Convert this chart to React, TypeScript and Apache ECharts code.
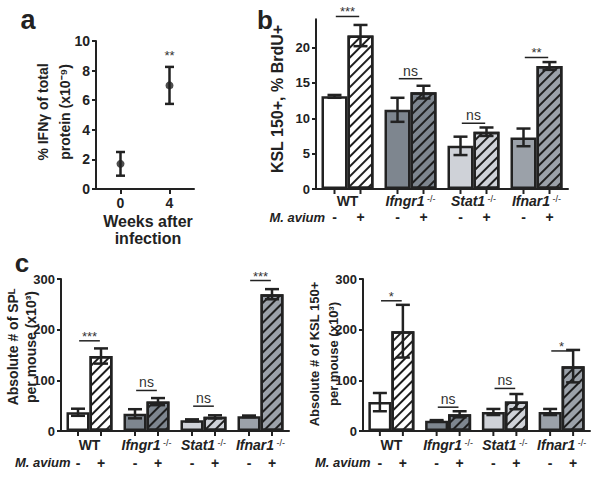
import React, { useEffect, useRef } from 'react';
import * as echarts from 'echarts';

// ---------- data ----------
const aWeeks = ['0', '4'];
const aMean = [1.7, 7.0];
const aLow = [0.9, 5.75];
const aHigh = [2.5, 8.25];
const aSig = ['', '**'];
const aSigY = [0, 8.7];

const genotypes = ['WT', 'Ifngr1', 'Stat1', 'Ifnar1'];
const avium = ['-', '+'];

const bMinus = [13.1, 11.2, 6.1, 7.3];
const bMinusErr = [0.2, 1.7, 1.3, 1.25];
const bPlus = [21.7, 13.7, 8.1, 17.4];
const bPlusErr = [1.5, 0.9, 0.6, 0.55];
const bSig = ['***', 'ns', 'ns', '**'];
const bSigY = [24.4, 15.6, 9.3, 18.6];

const spMinus = [37, 34, 21, 29];
const spMinusErr = [7, 9, 2, 1.5];
const spPlus = [148, 58, 28, 270];
const spPlusErr = [15, 7, 3, 10];
const spSig = ['***', 'ns', 'ns', '***'];
const spSigY = [178, 80, 49, 297];

const kslMinus = [57, 20, 37.5, 37.5];
const kslMinusErr = [18, 1.5, 6, 6];
const kslPlus = [197, 33, 58, 128];
const kslPlusErr = [52, 6, 15, 32];
const kslSig = ['*', 'ns', 'ns', '*'];
const kslSigY = [257, 47, 84, 158];

// ---------- style ----------
const INK = '#222222';
const FONT = '"Liberation Sans", Arial, Helvetica, sans-serif';
const fills = ['#ffffff', '#7e868f', '#cfd2d8', '#9ba1a9'];

const hatch = {
  symbol: 'rect',
  symbolSize: 1,
  dashArrayX: [1, 0],
  dashArrayY: [2, 4.5],
  rotation: -Math.PI / 4,
  color: '#1e1e1e',
};

const errRender = (side: number, barW: number, capW: number) => (params: any, api: any) => {
  const lo = api.coord([api.value(0), api.value(1)]);
  const hi = api.coord([api.value(0), api.value(2)]);
  const x = lo[0] + (side * barW) / 2;
  const st = { stroke: INK, lineWidth: 2.5 };
  return {
    type: 'group',
    children: [
      { type: 'line', shape: { x1: x, y1: lo[1], x2: x, y2: hi[1] }, style: st },
      { type: 'line', shape: { x1: x - capW / 2, y1: hi[1], x2: x + capW / 2, y2: hi[1] }, style: st },
      { type: 'line', shape: { x1: x - capW / 2, y1: lo[1], x2: x + capW / 2, y2: lo[1] }, style: st },
    ],
  };
};

const markRender = (barW: number, labelDy: number) => (params: any, api: any) => {
  const p = api.coord([api.value(0), 0]);
  const children: any[] = [];
  [-1, 1].forEach((s, k) => {
    const x = p[0] + (s * barW) / 2;
    children.push({ type: 'line', shape: { x1: x, y1: p[1], x2: x, y2: p[1] + 5 }, style: { stroke: INK, lineWidth: 2 } });
    children.push({
      type: 'text',
      style: { text: avium[k], x, y: p[1] + labelDy, align: 'center', verticalAlign: 'middle', fontSize: 14, fontWeight: 'bold', fill: INK, fontFamily: FONT },
    });
  });
  return { type: 'group', children };
};

const sigRender = (labels: string[], hw: number) => (params: any, api: any) => {
  const p = api.coord([api.value(0), api.value(1)]);
  const t = labels[params.dataIndex];
  const ns = t === 'ns';
  const children: any[] = [
    { type: 'text', style: { text: t, x: p[0], y: p[1] - (ns ? 1 : -2), align: 'center', verticalAlign: 'bottom', fontSize: ns ? 14 : 13, fill: '#333', fontFamily: FONT } },
  ];
  if (hw > 0) children.push({ type: 'line', shape: { x1: p[0] - hw, y1: p[1], x2: p[0] + hw, y2: p[1] }, style: { stroke: INK, lineWidth: 1.5 } });
  return { type: 'group', children };
};

const xLabelFmt = (v: string) => (v === 'WT' ? '{b|WT}' : `{i|${v}}{s| -/-}`);
const xRich = {
  b: { fontSize: 14, fontWeight: 'bold', color: INK, fontFamily: FONT },
  i: { fontSize: 14, fontWeight: 'bold', fontStyle: 'italic', color: INK, fontFamily: FONT },
  s: { fontSize: 9, color: INK, fontFamily: FONT, verticalAlign: 'top' },
};

const axisLine = { show: true, lineStyle: { color: INK, width: 2 } };
const yTick = { show: true, length: 4, lineStyle: { color: INK, width: 2 } };
const yLabel = (size: number) => ({ fontSize: size, fontWeight: 'bold', color: INK, fontFamily: FONT, margin: 6 });

function groupedPanel(
  idx: number,
  minus: number[],
  minusErr: number[],
  plus: number[],
  plusErr: number[],
  sig: string[],
  sigY: number[],
  barW: number,
  labelDy: number,
) {
  const base = { xAxisIndex: idx, yAxisIndex: idx };
  return [
    {
      ...base,
      type: 'bar',
      barWidth: barW,
      barGap: '0%',
      data: minus.map((v, i) => ({ value: v, itemStyle: { color: fills[i] } })),
      itemStyle: { borderColor: INK, borderWidth: 2.5 },
      z: 2,
    },
    {
      ...base,
      type: 'bar',
      barWidth: barW,
      barGap: '0%',
      data: plus.map((v, i) => ({ value: v, itemStyle: { color: fills[i], decal: hatch } })),
      itemStyle: { borderColor: INK, borderWidth: 2.5 },
      z: 2,
    },
    { ...base, type: 'custom', z: 5, renderItem: errRender(-1, barW, 14), data: minus.map((m, i) => [i, m - minusErr[i], m + minusErr[i]]) },
    { ...base, type: 'custom', z: 5, renderItem: errRender(1, barW, 14), data: plus.map((m, i) => [i, m - plusErr[i], m + plusErr[i]]) },
    { ...base, type: 'custom', z: 5, renderItem: markRender(barW, labelDy), data: genotypes.map((g, i) => [i, 0]) },
    { ...base, type: 'custom', z: 5, renderItem: sigRender(sig, barW * 0.45), data: sigY.map((y, i) => [i, y]) },
  ];
}

export default function App() {
  const ref = useRef<HTMLDivElement>(null);
  useEffect(() => {
    document.body.style.margin = '0';
    const chart = echarts.init(ref.current!, undefined, { renderer: 'svg' });
    const txt = (text: string, x: number, y: number, extra: any = {}) => ({
      type: 'text',
      x,
      y,
      style: { text, fill: INK, fontFamily: FONT, fontWeight: 'bold', fontSize: 14, align: 'center', verticalAlign: 'middle', ...extra },
    });
    const rot = (text: string, x: number, y: number, size: number) => ({
      type: 'text',
      x,
      y,
      rotation: Math.PI / 2,
      style: { text, align: 'center', verticalAlign: 'middle', fontSize: size, fontFamily: FONT, fontWeight: 'bold', fill: INK },
    });

    chart.setOption({
      animation: false,
      backgroundColor: '#ffffff',
      grid: [
        { left: 96, top: 41, width: 98, height: 148 },
        { left: 316, top: 19.3, width: 252, height: 169.7 },
        { left: 61, top: 279, width: 228, height: 152 },
        { left: 363, top: 279, width: 227, height: 152 },
      ],
      xAxis: [
        {
          gridIndex: 0,
          type: 'category',
          data: aWeeks,
          axisLine,
          axisTick: { show: true, alignWithLabel: true, length: 5, lineStyle: { color: INK, width: 2 } },
          axisLabel: { fontSize: 14, fontWeight: 'bold', color: INK, fontFamily: FONT, margin: 7 },
        },
        ...[1, 2, 3].map((g) => ({
          gridIndex: g,
          type: 'category',
          data: genotypes,
          axisLine,
          axisTick: { show: false },
          axisLabel: { interval: 0, hideOverlap: false, formatter: xLabelFmt, rich: xRich, margin: g === 1 ? 5 : 7 },
        })),
      ],
      yAxis: [
        {
          gridIndex: 0,
          type: 'value',
          min: 0,
          max: 10,
          interval: 2,
          axisLine,
          axisTick: yTick,
          axisLabel: yLabel(14),
          splitLine: { show: false },
        },
        {
          gridIndex: 1,
          type: 'value',
          min: 0,
          max: 24,
          interval: 5,
          axisLine,
          axisTick: { ...yTick, customValues: [0, 5, 10, 15, 20] },
          axisLabel: { ...yLabel(13), customValues: [0, 5, 10, 15, 20] },
          splitLine: { show: false },
        },
        ...[2, 3].map((g) => ({
          gridIndex: g,
          type: 'value',
          min: 0,
          max: 300,
          interval: 100,
          axisLine,
          axisTick: yTick,
          axisLabel: yLabel(13),
          splitLine: { show: false },
        })),
      ],
      series: [
        {
          type: 'custom',
          xAxisIndex: 0,
          yAxisIndex: 0,
          z: 4,
          renderItem: errRender(0, 0, 9),
          data: aMean.map((m, i) => [i, aLow[i], aHigh[i]]),
        },
        {
          type: 'scatter',
          xAxisIndex: 0,
          yAxisIndex: 0,
          symbol: 'circle',
          symbolSize: 8,
          itemStyle: { color: INK },
          data: aMean,
          z: 5,
        },
        {
          type: 'custom',
          xAxisIndex: 0,
          yAxisIndex: 0,
          renderItem: sigRender(aSig, 0),
          data: aSigY.map((y, i) => [i, y]),
        },
        ...groupedPanel(1, bMinus, bMinusErr, bPlus, bPlusErr, bSig, bSigY, 26, 28),
        ...groupedPanel(2, spMinus, spMinusErr, spPlus, spPlusErr, spSig, spSigY, 23, 31.5),
        ...groupedPanel(3, kslMinus, kslMinusErr, kslPlus, kslPlusErr, kslSig, kslSigY, 23, 31.5),
      ],
      graphic: [
        txt('a', 28, 20, { fontSize: 27 }),
        txt('b', 265, 20, { fontSize: 26 }),
        txt('c', 22, 263, { fontSize: 26 }),
        rot('% IFNγ of total', 43, 112, 14),
        rot('protein (x10⁻⁹)', 65, 112, 14),
        txt('Weeks after', 148, 221, { fontSize: 16 }),
        txt('infection', 148, 238, { fontSize: 16 }),
        rot('KSL 150+, % BrdU+', 277, 99, 16),
        rot('Absolute # of SPᴸ', 13, 347, 14),
        rot('per mouse (x10³)', 31, 347, 14),
        rot('Absolute # of KSL 150+', 314, 354, 13),
        rot('per mouse (x10³)', 333, 354, 13),
        txt('M. avium', 325, 217, { fontStyle: 'italic', fontSize: 13, align: 'right' }),
        txt('M. avium', 15, 462, { fontStyle: 'italic', fontSize: 13, align: 'left' }),
        txt('M. avium', 315, 462, { fontStyle: 'italic', fontSize: 13, align: 'left' }),
      ],
    });
    return () => chart.dispose();
  }, []);
  return <div ref={ref} style={{ width: 600, height: 478 }} />;
}
